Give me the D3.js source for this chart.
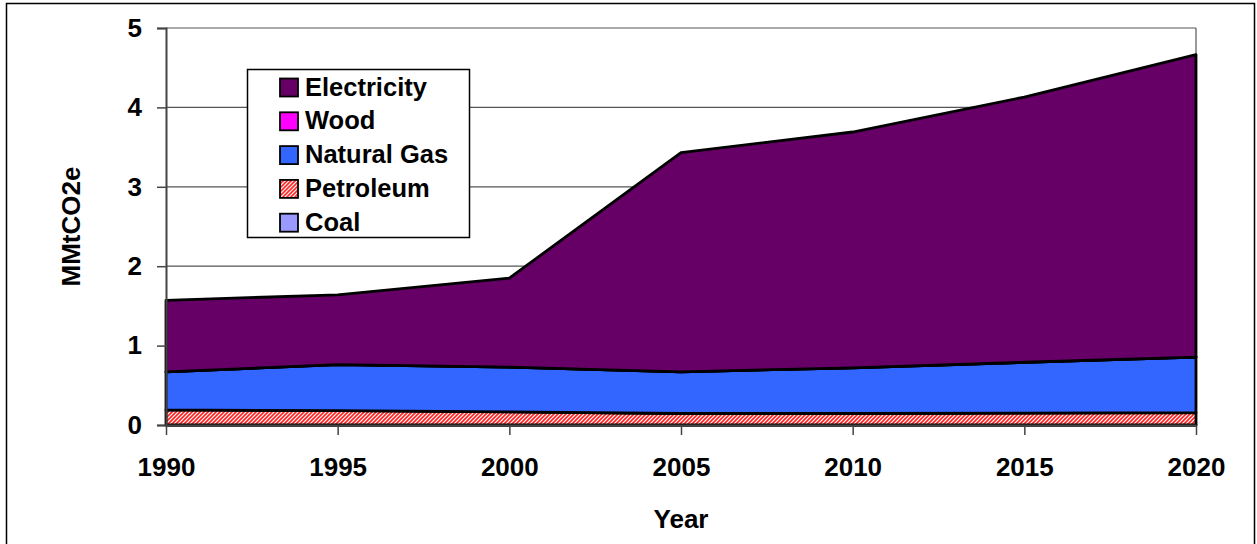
<!DOCTYPE html>
<html>
<head>
<meta charset="utf-8">
<script src="https://cdn.jsdelivr.net/npm/d3@7"></script>
<style>
  html, body { margin: 0; padding: 0; background: #fff; }
  svg { display: block; font-family: "Liberation Sans", Arial, sans-serif; font-weight: bold; }
</style>
</head>
<body>
<svg id="chart" width="1257" height="544"></svg>
<script>
// Emissions by fuel type, MMtCO2e
const years = [1990, 1995, 2000, 2005, 2010, 2015, 2020];
const coal = [0, 0, 0, 0, 0, 0, 0];
const petroleum = [0.19, 0.18, 0.165, 0.145, 0.145, 0.15, 0.155];
const naturalGas = [0.48, 0.58, 0.565, 0.525, 0.575, 0.64, 0.70];
const wood = [0, 0, 0, 0, 0, 0, 0];
const electricity = [0.90, 0.88, 1.12, 2.76, 2.97, 3.34, 3.81];
const yTicks = [0, 1, 2, 3, 4, 5];

const seriesDefs = [
  { key: "Coal", values: coal, fill: "#9999ff" },
  { key: "Petroleum", values: petroleum, fill: "url(#hatch)" },
  { key: "Natural Gas", values: naturalGas, fill: "#3366ff" },
  { key: "Wood", values: wood, fill: "#ff00ff" },
  { key: "Electricity", values: electricity, fill: "#660066" }
];

const rows = years.map((yr, i) => {
  const r = { year: yr };
  seriesDefs.forEach(s => { r[s.key] = s.values[i]; });
  return r;
});

const svg = d3.select("#chart");

// hatched fill for petroleum
const defs = svg.append("defs");
const pat = defs.append("pattern")
  .attr("id", "hatch").attr("patternUnits", "userSpaceOnUse")
  .attr("width", 4).attr("height", 4);
pat.append("rect").attr("width", 4).attr("height", 4).attr("fill", "#ffffff");
pat.append("path").attr("d", "M-1,1 l2,-2 M0,4 l4,-4 M3,5 l2,-2")
  .attr("stroke", "#ff2020").attr("stroke-width", 1.6);

// outer frame
svg.append("rect").attr("x", 6.5).attr("y", 3.5).attr("width", 1248).attr("height", 560)
  .attr("fill", "#fff").attr("stroke", "#000").attr("stroke-width", 1.5);

const x = d3.scaleLinear().domain([1990, 2020]).range([166, 1196]);
const y = d3.scaleLinear().domain([0, 5]).range([425, 28]);

// gridlines
svg.append("g").selectAll("line").data(yTicks.filter(d => d > 0)).join("line")
  .attr("x1", x(1990)).attr("x2", x(2020))
  .attr("y1", d => y(d)).attr("y2", d => y(d))
  .attr("stroke", "#555").attr("stroke-width", 1.2);

// right edge of plot area
svg.append("line").attr("x1", x(2020)).attr("x2", x(2020)).attr("y1", y(5)).attr("y2", y(0))
  .attr("stroke", "#555").attr("stroke-width", 1.2);

// stacked areas
const stack = d3.stack().keys(seriesDefs.map(s => s.key));
const layers = stack(rows);
const area = d3.area()
  .x(d => x(d.data.year))
  .y0(d => y(d[0]))
  .y1(d => y(d[1]));

svg.append("g").selectAll("path").data(layers).join("path")
  .attr("d", area)
  .attr("fill", (d, i) => seriesDefs[i].fill)
  .attr("stroke", "#000").attr("stroke-width", 2.8)
  .attr("stroke-linejoin", "round");

// axes
const yAxis = d3.axisLeft(y).tickValues(yTicks).tickFormat(d3.format("d"))
  .tickSize(9).tickPadding(15);
const gy = svg.append("g").attr("transform", `translate(${x(1990)},0)`).call(yAxis);
gy.select(".domain").attr("stroke", "#444").attr("stroke-width", 2);
gy.selectAll(".tick line").attr("stroke", "#444").attr("stroke-width", 1.5);
gy.selectAll(".tick text").attr("font-size", 26).attr("font-weight", "bold")
  .attr("fill", "#000").attr("font-family", "Liberation Sans, Arial, sans-serif");

const xAxis = d3.axisBottom(x).tickValues(years).tickFormat(d3.format("d"))
  .tickSize(10).tickPadding(23).tickSizeOuter(0);
const gx = svg.append("g").attr("transform", `translate(0,${y(0)})`).call(xAxis);
gx.select(".domain").attr("stroke", "#444").attr("stroke-width", 2);
gx.selectAll(".tick line").attr("stroke", "#444").attr("stroke-width", 1.5);
gx.selectAll(".tick text").attr("font-size", 26).attr("font-weight", "bold")
  .attr("fill", "#000").attr("font-family", "Liberation Sans, Arial, sans-serif");

// axis titles
svg.append("text").attr("x", (x(1990) + x(2020)) / 2).attr("y", 528)
  .attr("text-anchor", "middle").attr("font-size", 26).text("Year");
svg.append("text")
  .attr("transform", `translate(80,${(y(0) + y(5)) / 2}) rotate(-90)`)
  .attr("text-anchor", "middle").attr("font-size", 26).text("MMtCO2e");

// legend
const legendOrder = ["Electricity", "Wood", "Natural Gas", "Petroleum", "Coal"];
const lg = svg.append("g");
lg.append("rect").attr("x", 247.5).attr("y", 69.5).attr("width", 222).attr("height", 168)
  .attr("fill", "#fff").attr("stroke", "#000").attr("stroke-width", 1.5);
const items = lg.selectAll("g.item").data(legendOrder).join("g")
  .attr("class", "item")
  .attr("transform", (d, i) => `translate(280,${78.5 + i * 33.8})`);
items.append("rect").attr("width", 18).attr("height", 18)
  .attr("fill", d => seriesDefs.find(s => s.key === d).fill)
  .attr("stroke", "#000").attr("stroke-width", 1.8);
items.append("text").attr("x", 25).attr("y", 17).attr("font-size", 25.5).text(d => d);
</script>
</body>
</html>
